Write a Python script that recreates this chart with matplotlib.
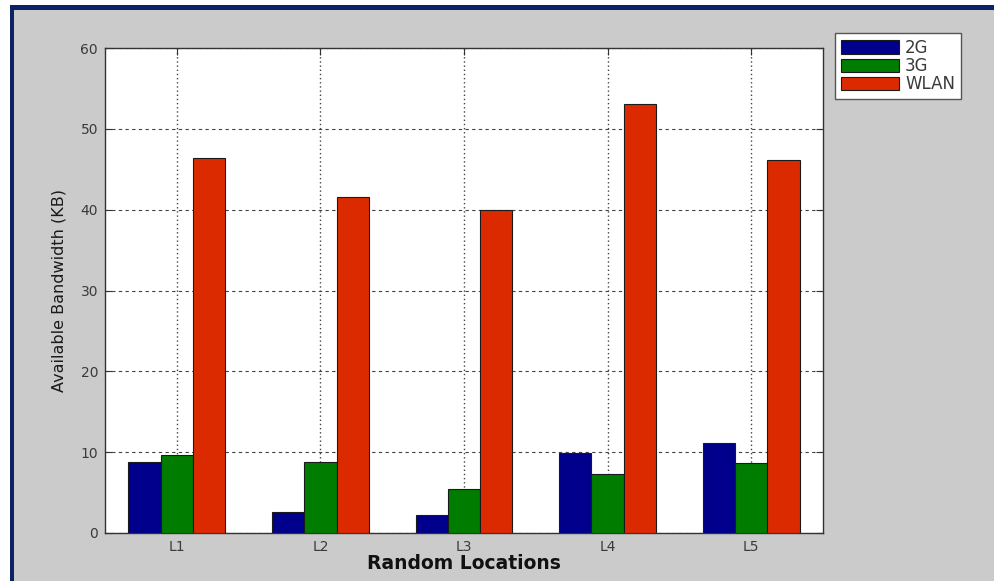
import matplotlib
matplotlib.use("Agg")
import matplotlib.pyplot as plt
from matplotlib.patches import Rectangle
import numpy as np

plt.rcParams['font.family'] = ['DejaVu Sans']

# Available bandwidth per location and network type
locations = ["L1", "L2", "L3", "L4", "L5"]
bw_2g = [8.8, 2.6, 2.2, 9.9, 11.1]
bw_3g = [9.6, 8.8, 5.4, 7.3, 8.7]
bw_wlan = [46.4, 41.6, 40.0, 53.1, 46.2]
series_names = ["2G", "3G", "WLAN"]
y_ticks = [0, 10, 20, 30, 40, 50, 60]

colors = ["#00008c", "#007d00", "#dc2a00"]
bg = "#cbcbcb"

W, H = 995, 581
fig = plt.figure(figsize=(W / 100, H / 100), dpi=100, facecolor=bg)

# window frame: white margin with navy edge on top and left
def px_rect(x0, y0, w, h, color):
    fig.add_artist(Rectangle((x0 / W, 1 - (y0 + h) / H), w / W, h / H,
                             transform=fig.transFigure, facecolor=color,
                             edgecolor="none", zorder=0))

px_rect(0, 0, W, 5, "white")
px_rect(0, 0, 10, H, "white")
px_rect(10, 5, W - 5, 5, "#0b2266")
px_rect(10, 5, 4, H, "#0b2266")

ax_l, ax_r, ax_t, ax_b = 105, 823, 48, 533
ax = fig.add_axes([ax_l / W, 1 - ax_b / H, (ax_r - ax_l) / W, (ax_b - ax_t) / H])
ax.set_facecolor("white")

x = np.arange(1, len(locations) + 1)
width = 0.225
for i, (vals, name) in enumerate(zip([bw_2g, bw_3g, bw_wlan], series_names)):
    ax.bar(x + (i - 1) * width, vals, width, color=colors[i], edgecolor="#1a1a1a",
           linewidth=0.8, label=name, zorder=3)

ax.set_xlim(0.5, 5.5)
ax.set_ylim(0, 60)
ax.set_xticks(x)
ax.set_xticklabels(locations)
ax.set_yticks(y_ticks)

ax.yaxis.grid(True, linestyle=(0, (3, 3)), color="#444444", linewidth=0.8, zorder=1)
ax.xaxis.grid(True, linestyle=(0, (1, 2)), color="#444444", linewidth=1.0, zorder=1)
ax.set_axisbelow(True)

ax.tick_params(direction="in", length=5, width=0.8, colors="#333333",
               labelsize=10, labelcolor="#3a3a3a", top=True, right=True)
ax.tick_params(axis="x", pad=5)
ax.tick_params(axis="y", pad=5)
for s in ax.spines.values():
    s.set_color("#333333")
    s.set_linewidth(1.0)

ax.set_ylabel("Available Bandwidth (KB)", fontsize=11.5, color="#1a1a1a", labelpad=10)
ax.set_xlabel("Random Locations", fontsize=13.5, fontweight="bold", color="#111111", labelpad=0)

handles, labels = ax.get_legend_handles_labels()
leg = fig.legend(handles, labels, loc="upper left",
                 bbox_to_anchor=(835 / W, 1 - 33 / H),
                 fontsize=12, handlelength=3.5, handleheight=0.85,
                 labelspacing=0.02, handletextpad=0.35, borderpad=0.35,
                 fancybox=False, frameon=True, framealpha=1.0, borderaxespad=0)
leg.get_frame().set_edgecolor("#555555")
leg.get_frame().set_facecolor("white")
leg.get_frame().set_linewidth(1.0)
for t in leg.get_texts():
    t.set_color("#3a3a3a")

fig.savefig("out.png", dpi=100, facecolor=bg)
